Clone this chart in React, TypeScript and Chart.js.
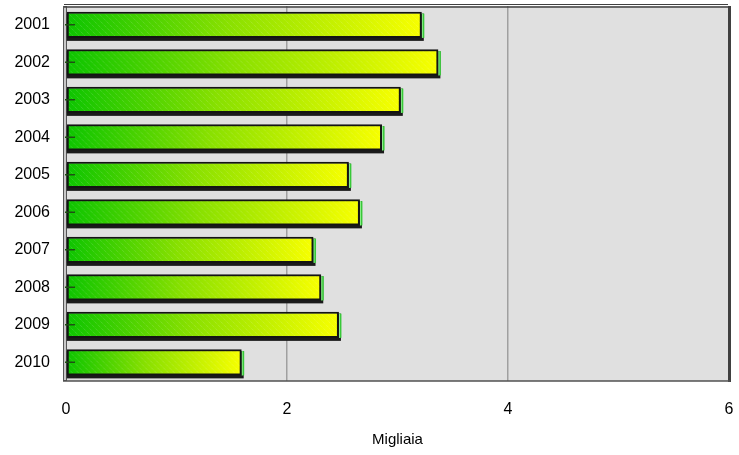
import React, { useEffect, useRef } from "react";
import { Chart, registerables } from "chart.js";

Chart.register(...registerables);

const categories = ["2001", "2002", "2003", "2004", "2005", "2006", "2007", "2008", "2009", "2010"];
const values = [3.22, 3.37, 3.03, 2.86, 2.56, 2.66, 2.24, 2.31, 2.47, 1.59];
const xTicks = [0, 2, 4, 6];
const axisTitle = "Migliaia";

const FONT = "Arial, 'Liberation Sans', sans-serif";

const frame3d = {
  id: "frame3d",
  beforeDraw(chart: any) {
    const { ctx, chartArea: a } = chart;
    ctx.save();
    ctx.fillStyle = "#e0e0e0";
    ctx.fillRect(a.left - 2, a.top, a.right - a.left + 2, a.bottom - a.top);
    ctx.restore();
  },
  beforeDatasetsDraw(chart: any) {
    const { ctx, chartArea: a } = chart;
    ctx.save();
    // left wall strip
    ctx.fillStyle = "#c8c8c8";
    ctx.fillRect(a.left - 2, a.top, 3, a.bottom - a.top);
    ctx.strokeStyle = "#555";
    ctx.lineWidth = 1;
    ctx.strokeRect(a.left - 2.5, a.top + 0.5, 3, a.bottom - a.top - 1);
    // borders
    ctx.strokeStyle = "#404040";
    ctx.lineWidth = 1;
    ctx.beginPath();
    ctx.moveTo(a.left - 2, a.top - 1.5);
    ctx.lineTo(a.right - 1, a.top - 1.5);
    ctx.stroke();
    ctx.lineWidth = 1.5;
    ctx.beginPath();
    ctx.moveTo(a.left - 2, a.top + 1);
    ctx.lineTo(a.right, a.top + 1);
    ctx.stroke();
    ctx.fillStyle = "#404040";
    ctx.fillRect(a.right - 1, a.top, 3, a.bottom - a.top + 1);
    ctx.strokeStyle = "#505050";
    ctx.lineWidth = 1.5;
    ctx.beginPath();
    ctx.moveTo(a.left - 3, a.bottom);
    ctx.lineTo(a.right + 1, a.bottom);
    ctx.stroke();
    // bar shadows, side faces, gradients
    const meta = chart.getDatasetMeta(0);
    meta.data.forEach((bar: any) => {
      const { x, y, base, height } = bar.getProps(["x", "y", "base", "height"], true);
      const top = y - height / 2;
      const bottom = y + height / 2;
      ctx.fillStyle = "#1a1a1a";
      ctx.fillRect(base, top + 2, x - base + 2, bottom - top + 1);
      ctx.fillStyle = "#38c838";
      ctx.fillRect(x, top + 2, 2.5, bottom - top - 2);
      ctx.fillStyle = "#90ee90";
      ctx.fillRect(x, top + 2, 1, bottom - top - 2);
      if (isFinite(base) && isFinite(x)) {
        const g = ctx.createLinearGradient(base, 0, x, 0);
        g.addColorStop(0, "#0cc400");
        g.addColorStop(0.45, "#88e000");
        g.addColorStop(1, "#f8ff00");
        bar.options = Object.assign({}, bar.options, { backgroundColor: g });
      }
    });
    ctx.restore();
  },
  afterDatasetsDraw(chart: any) {
    const { ctx, chartArea: a } = chart;
    const meta = chart.getDatasetMeta(0);
    ctx.save();
    meta.data.forEach((bar: any) => {
      const { x, y, base, height } = bar.getProps(["x", "y", "base", "height"], true);
      const top = y - height / 2 + 2;
      const bottom = y + height / 2 - 2;
      ctx.save();
      ctx.beginPath();
      ctx.rect(base + 2, top, x - base - 4, bottom - top);
      ctx.clip();
      ctx.strokeStyle = "rgba(255,255,255,0.22)";
      ctx.lineWidth = 1;
      ctx.setLineDash([1, 1]);
      for (let sx = base - 40; sx < x + 40; sx += 6) {
        ctx.beginPath();
        ctx.moveTo(sx, top);
        ctx.lineTo(sx + (bottom - top), bottom);
        ctx.stroke();
      }
      ctx.restore();
      // y tick mark
      ctx.strokeStyle = "#1f4f14";
      ctx.lineWidth = 1.5;
      ctx.beginPath();
      ctx.moveTo(a.left - 1, y);
      ctx.lineTo(a.left + 9, y);
      ctx.stroke();
    });
    ctx.restore();
  },
};

export default function App() {
  const ref = useRef<HTMLCanvasElement>(null);
  useEffect(() => {
    if (!ref.current) return;
    const chart = new Chart(ref.current, {
      type: "bar",
      data: {
        labels: categories,
        datasets: [
          {
            data: values,
            backgroundColor: "#80e000",
            borderColor: "#141414",
            borderWidth: 2,
            borderSkipped: false,
            barPercentage: 0.7,
            categoryPercentage: 1,
          },
        ],
      },
      options: {
        indexAxis: "y",
        responsive: false,
        animation: false,
        layout: { padding: { top: 6, right: 10, left: 0, bottom: 0 } },
        plugins: { legend: { display: false }, tooltip: { enabled: false } },
        scales: {
          x: {
            min: 0,
            max: 6,
            afterBuildTicks: (s: any) => {
              s.ticks = xTicks.map((v) => ({ value: v }));
            },
            afterFit: (s: any) => {
              s.height = 74;
              s.paddingLeft = 0;
              s.paddingRight = 0;
              s.paddingTop = 0;
              s.paddingBottom = 0;
            },
            ticks: { font: { family: FONT, size: 16 }, color: "#000", padding: 19 },
            grid: {
              drawTicks: false,
              color: (c: any) => (c.tick && (c.tick.value === 2 || c.tick.value === 4) ? "#a0a0a0" : "rgba(0,0,0,0)"),
              lineWidth: 1.5,
            },
            border: { display: false },
            title: {
              display: true,
              text: axisTitle,
              font: { family: FONT, size: 15 },
              color: "#000",
              padding: { top: 0, bottom: 6 },
            },
          },
          y: {
            afterFit: (s: any) => {
              s.width = 66;
              s.paddingLeft = 0;
              s.paddingRight = 0;
              s.paddingTop = 0;
              s.paddingBottom = 0;
            },
            ticks: { font: { family: FONT, size: 16 }, color: "#000", padding: 16 },
            grid: { display: false, drawTicks: false },
            border: { display: false },
          },
        },
      },
      plugins: [frame3d],
    } as any);
    return () => chart.destroy();
  }, []);
  return (
    <div style={{ position: "absolute", left: 0, top: 0, width: 739, height: 455, background: "#fff" }}>
      <canvas ref={ref} width={739} height={455} style={{ width: 739, height: 455 }} />
    </div>
  );
}
